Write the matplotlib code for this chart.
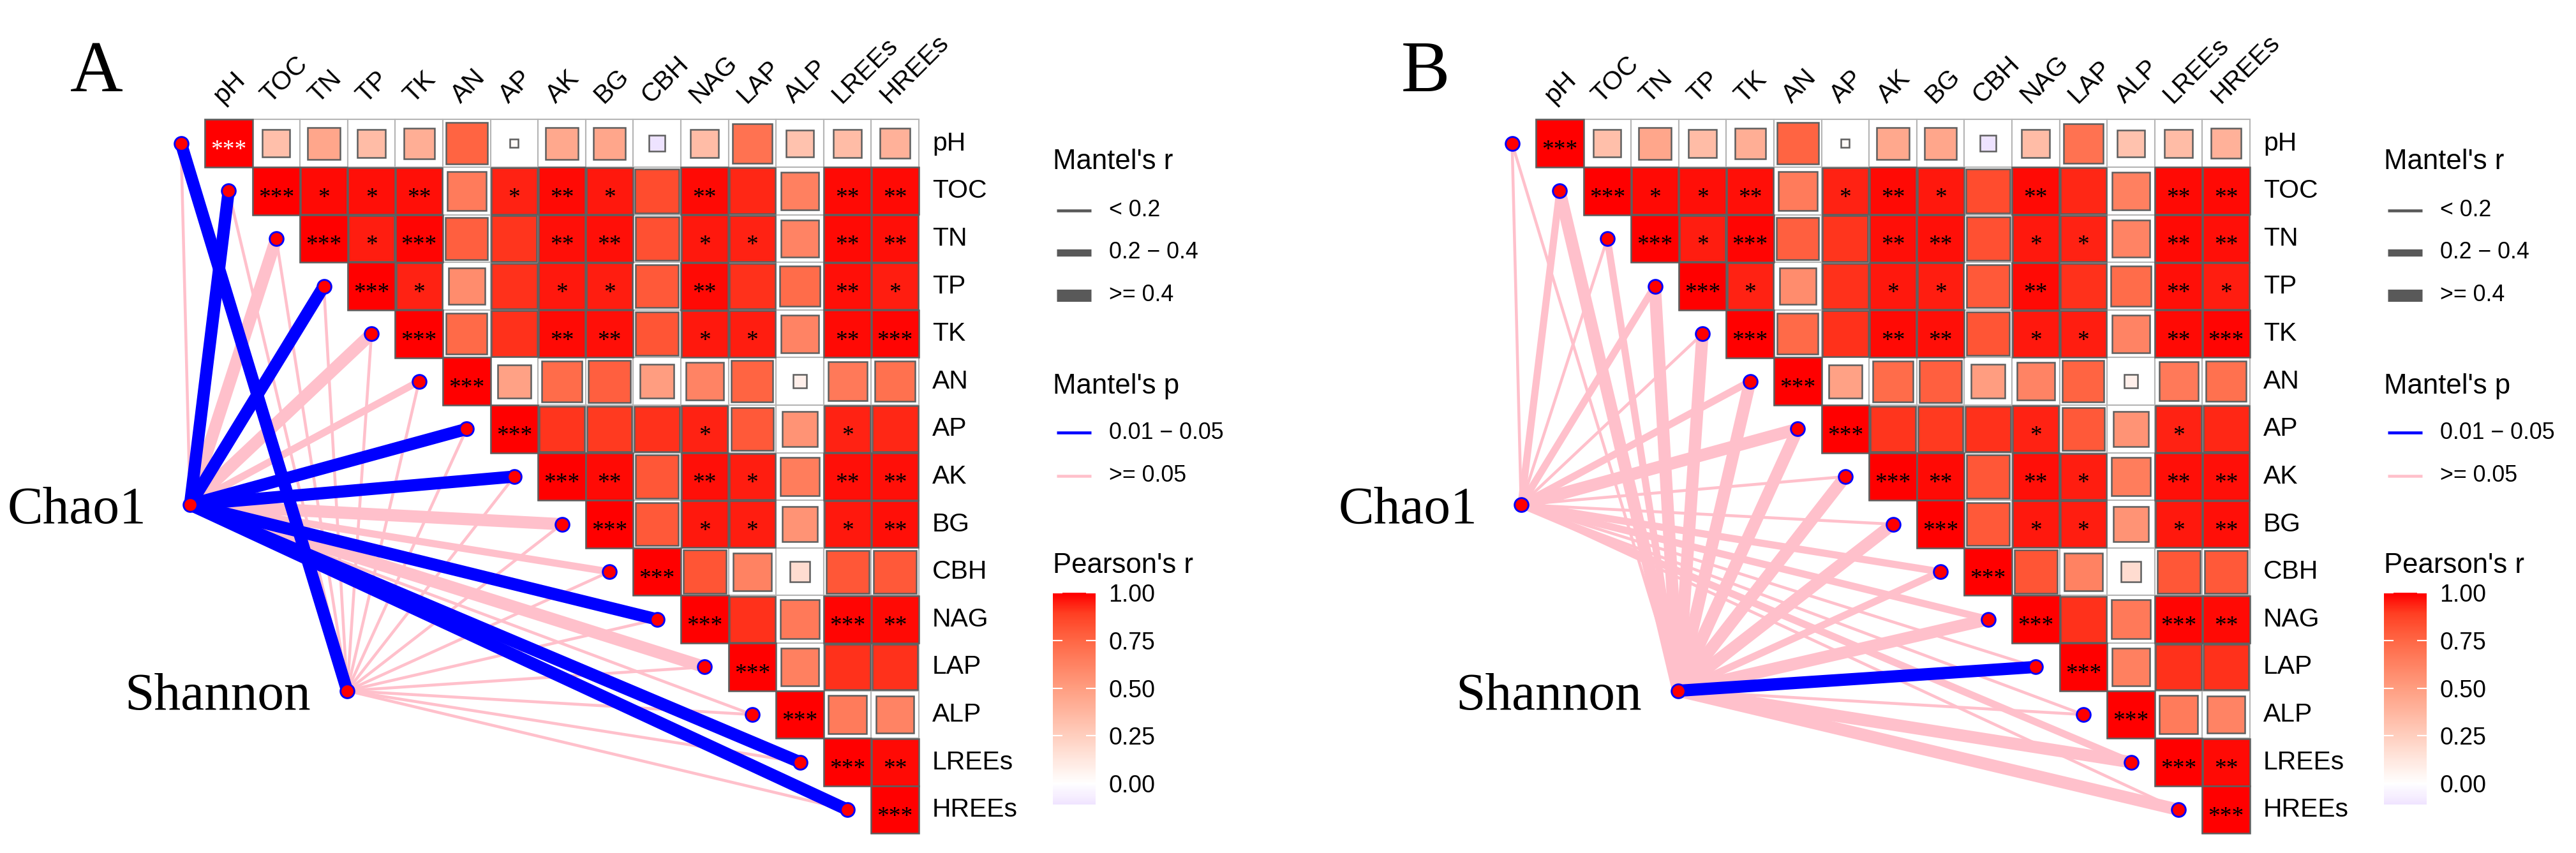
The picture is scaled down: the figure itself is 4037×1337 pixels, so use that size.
import numpy as np
import matplotlib
matplotlib.use("Agg")
import matplotlib.pyplot as plt
from matplotlib.colors import LinearSegmentedColormap, Normalize
from matplotlib.patches import Rectangle

plt.rcParams['font.family'] = ['Liberation Sans', 'DejaVu Sans']
SERIF = ['Liberation Serif', 'DejaVu Serif']

variables = ["pH", "TOC", "TN", "TP", "TK", "AN", "AP", "AK", "BG",
             "CBH", "NAG", "LAP", "ALP", "LREEs", "HREEs"]

# Pearson's r, upper triangle: row i holds columns i..14
pearson_rows = [
    [1.00, 0.33, 0.46, 0.35, 0.42, 0.76, 0.03, 0.45, 0.46, -0.11, 0.35, 0.70, 0.32, 0.35, 0.40],
    [1.00, 0.98, 0.97, 0.97, 0.66, 0.94, 0.98, 0.96, 0.85, 0.98, 0.93, 0.64, 0.98, 0.98],
    [1.00, 0.95, 0.99, 0.78, 0.91, 0.97, 0.97, 0.83, 0.96, 0.94, 0.62, 0.98, 0.97],
    [1.00, 0.94, 0.58, 0.92, 0.96, 0.95, 0.80, 0.98, 0.92, 0.73, 0.97, 0.95],
    [1.00, 0.74, 0.92, 0.98, 0.97, 0.82, 0.96, 0.95, 0.62, 0.98, 0.99],
    [1.00, 0.48, 0.73, 0.78, 0.50, 0.62, 0.76, 0.08, 0.67, 0.71],
    [1.00, 0.91, 0.90, 0.92, 0.94, 0.80, 0.55, 0.94, 0.93],
    [1.00, 0.98, 0.81, 0.97, 0.95, 0.65, 0.97, 0.97],
    [1.00, 0.80, 0.96, 0.95, 0.55, 0.96, 0.97],
    [1.00, 0.82, 0.63, 0.18, 0.81, 0.80],
    [1.00, 0.92, 0.67, 0.99, 0.98],
    [1.00, 0.64, 0.92, 0.92],
    [1.00, 0.66, 0.62],
    [1.00, 0.98],
    [1.00],
]

star_rows = [
    ["***", "", "", "", "", "", "", "", "", "", "", "", "", "", ""],
    ["***", "*", "*", "**", "", "*", "**", "*", "", "**", "", "", "**", "**"],
    ["***", "*", "***", "", "", "**", "**", "", "*", "*", "", "**", "**"],
    ["***", "*", "", "", "*", "*", "", "**", "", "", "**", "*"],
    ["***", "", "", "**", "**", "", "*", "*", "", "**", "***"],
    ["***", "", "", "", "", "", "", "", "", ""],
    ["***", "", "", "", "*", "", "", "*", ""],
    ["***", "**", "", "**", "*", "", "**", "**"],
    ["***", "", "*", "*", "", "*", "**"],
    ["***", "", "", "", "", ""],
    ["***", "", "", "***", "**"],
    ["***", "", "", ""],
    ["***", "", ""],
    ["***", "**"],
    ["***"],
]

# Mantel test classes read from the links, one entry per variable (pH ... HREEs)
chao1_r_A = ["< 0.2", ">= 0.4", ">= 0.4", ">= 0.4", ">= 0.4", "0.2 - 0.4", ">= 0.4", ">= 0.4",
             ">= 0.4", "0.2 - 0.4", ">= 0.4", ">= 0.4", "< 0.2", ">= 0.4", ">= 0.4"]
chao1_p_A = [">= 0.05", "0.01 - 0.05", ">= 0.05", "0.01 - 0.05", ">= 0.05", ">= 0.05",
             "0.01 - 0.05", "0.01 - 0.05", ">= 0.05", ">= 0.05", "0.01 - 0.05", ">= 0.05",
             ">= 0.05", "0.01 - 0.05", "0.01 - 0.05"]
shannon_r_A = [">= 0.4"] + ["< 0.2"] * 14
shannon_p_A = ["0.01 - 0.05"] + [">= 0.05"] * 14

chao1_r_B = ["< 0.2", "0.2 - 0.4", "< 0.2", "0.2 - 0.4", "< 0.2", "0.2 - 0.4", ">= 0.4", "< 0.2",
             "< 0.2", "0.2 - 0.4", "0.2 - 0.4", "< 0.2", "< 0.2", "0.2 - 0.4", "< 0.2"]
chao1_p_B = [">= 0.05"] * 15
shannon_r_B = ["< 0.2", ">= 0.4", "0.2 - 0.4", ">= 0.4", ">= 0.4", ">= 0.4", ">= 0.4", ">= 0.4",
               ">= 0.4", "0.2 - 0.4", ">= 0.4", ">= 0.4", "< 0.2", ">= 0.4", ">= 0.4"]
shannon_p_B = [">= 0.05"] * 11 + ["0.01 - 0.05"] + [">= 0.05"] * 3

r_bins = ["< 0.2", "0.2 - 0.4", ">= 0.4"]
p_bins = ["0.01 - 0.05", ">= 0.05"]
r_width = {"< 0.2": 1.1, "0.2 - 0.4": 2.7, ">= 0.4": 4.6}
p_color = {"0.01 - 0.05": "#0000FF", ">= 0.05": "#FFC0CB"}

cbar_ticks = [0.00, 0.25, 0.50, 0.75, 1.00]
cbar_min = -0.11

# white -> red gradient interpolated like ggplot (Lab), faint blue below zero
cmap = LinearSegmentedColormap.from_list("pearson", [
    (0.0, "#0000FF"), (0.45, "#F2E7FF"), (0.5, "#FFFFFF"), (0.55, "#FFECE5"),
    (0.625, "#FFCFBF"), (0.75, "#FF9E81"), (0.875, "#FF6846"), (0.95, "#FF3E22"),
    (1.0, "#FF0000")])
norm = Normalize(-1, 1)

W, H, CELL = 4037, 1337, 74.6
xmin = -0.5 - 321 / CELL
ytop = 0.5 + 187.5 / CELL
ybot = ytop - H / CELL

fig = plt.figure(figsize=(W / 300, H / 300), dpi=300)
ax = fig.add_axes([0, 0, 1, 1])
ax.set_xlim(xmin, xmin + W / CELL)
ax.set_ylim(ybot, ytop)
ax.axis("off")


def to_fig(x, y):
    return (x - xmin) * CELL / W, (y - ybot) * CELL / H


def draw_panel(x0, letter, chao_r, chao_p, sha_r, sha_p, white_stars):
    n = len(variables)
    # correlation squares
    for i in range(n):
        for k, (r, st) in enumerate(zip(pearson_rows[i], star_rows[i])):
            j = i + k
            ax.add_patch(Rectangle((x0 + j - 0.5, -i - 0.5), 1, 1, facecolor="white",
                                   edgecolor="#b5b5b5", lw=0.5, zorder=1))
            s = np.sqrt(abs(r))
            ax.add_patch(Rectangle((x0 + j - s / 2, -i - s / 2), s, s, facecolor=cmap(norm(r)),
                                   edgecolor="#5e5e5e", lw=0.6, zorder=2))
            if st:
                col = "white" if (i, j) in white_stars else "black"
                ax.text(x0 + j, -i - 0.15, st, ha="center", va="center", fontsize=9,
                        color=col, family=SERIF, zorder=3)
    for j, v in enumerate(variables):
        ax.text(x0 + j - 0.05, 0.75, v, rotation=45, rotation_mode="anchor",
                ha="left", va="bottom", fontsize=9.8)
        ax.text(x0 + n - 0.5 + 0.28, -j, v, ha="left", va="center", fontsize=9.8)

    # Mantel links
    nodes = [("Chao1", x0 - 0.81, -7.59, 0.92, chao_r, chao_p),
             ("Shannon", x0 + 2.49, -11.5, 0.77, sha_r, sha_p)]
    ends_x = [x0 + k - 1 for k in range(n)]
    ends_y = [-k for k in range(n)]
    for name, nx, ny, gap, rr, pp in nodes:
        for k in range(n):
            z = 5 if pp[k] == "0.01 - 0.05" else 4
            ax.plot([nx, ends_x[k]], [ny, ends_y[k]], color=p_color[pp[k]],
                    lw=r_width[rr[k]], solid_capstyle="butt", zorder=z)
        ax.text(nx - gap, ny - 0.39, name, ha="right", va="baseline",
                fontsize=20, family=SERIF)
    ax.plot(ends_x + [nd[1] for nd in nodes], ends_y + [nd[2] for nd in nodes], "o",
            ms=5.2, mfc="#FF0000", mec="#0000FF", mew=0.7, zorder=6)

    ax.text(x0 - 3.33, 1.1, letter, ha="left", va="baseline", fontsize=27.5, family=SERIF)

    # legends
    lx = x0 + 17.32
    ax.text(lx, -0.39, "Mantel's r", fontsize=10.5, va="center")
    for yy, lab in zip([-1.41, -2.29, -3.19], r_bins):
        ax.plot([x0 + 17.40, x0 + 18.12], [yy, yy], color="#595959", lw=r_width[lab],
                solid_capstyle="butt")
        ax.text(x0 + 18.5, yy, lab.replace("-", "\u2212"), fontsize=8.6, va="center")
    ax.text(lx, -5.10, "Mantel's p", fontsize=10.5, va="center")
    for yy, lab in zip([-6.08, -6.98], p_bins):
        ax.plot([x0 + 17.40, x0 + 18.12], [yy, yy], color=p_color[lab], lw=1.1,
                solid_capstyle="butt")
        ax.text(x0 + 18.5, yy, lab.replace("-", "\u2212"), fontsize=8.6, va="center")
    ax.text(lx, -8.87, "Pearson's r", fontsize=10.5, va="center")

    fx0, fy0 = to_fig(lx, -13.89)
    fx1, fy1 = to_fig(x0 + 18.21, -9.44)
    cax = fig.add_axes([fx0, fy0, fx1 - fx0, fy1 - fy0])
    grad = np.linspace(cbar_min, 1.0, 300)[:, None]
    cax.imshow(grad, aspect="auto", cmap=cmap, norm=norm, origin="lower",
               extent=[0, 1, cbar_min, 1.0])
    cax.set_xlim(0, 1)
    cax.set_ylim(cbar_min, 1.0)
    for t in cbar_ticks:
        cax.plot([0, 0.2], [t, t], color="white", lw=0.5)
        cax.plot([0.8, 1], [t, t], color="white", lw=0.5)
    cax.set_xticks([])
    cax.yaxis.tick_right()
    cax.set_yticks(cbar_ticks)
    cax.set_yticklabels([f"{t:.2f}" for t in cbar_ticks], fontsize=9)
    cax.tick_params(axis="y", length=0, pad=5)
    for sp in cax.spines.values():
        sp.set_visible(False)


draw_panel(0.0, "A", chao1_r_A, chao1_p_A, shannon_r_A, shannon_p_A, white_stars=[(0, 0)])
draw_panel((2407 - 321) / CELL, "B", chao1_r_B, chao1_p_B, shannon_r_B, shannon_p_B, white_stars=[])

fig.savefig("out.png", dpi=300, facecolor="white")
